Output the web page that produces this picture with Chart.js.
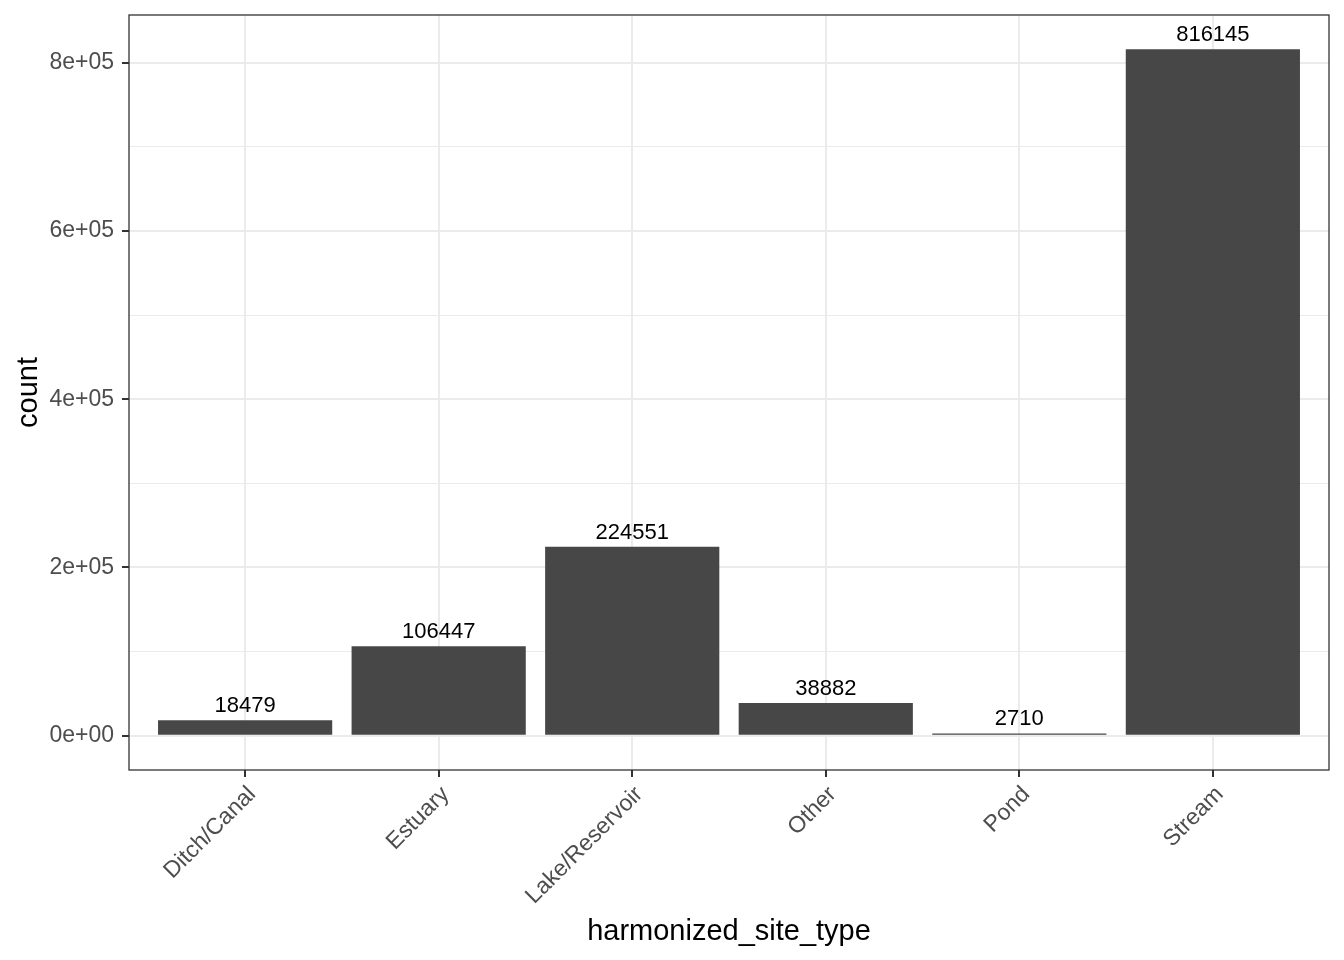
<!DOCTYPE html>
<html><head><meta charset="utf-8">
<script src="https://cdn.jsdelivr.net/npm/chart.js@4.4.1/dist/chart.umd.min.js"></script>
<style>html,body{margin:0;padding:0;background:#fff}#wrap{width:1344px;height:960px}</style>
</head><body><div id="wrap"><canvas id="c" width="1344" height="960"></canvas></div>
<script>
const categories = ["Ditch/Canal", "Estuary", "Lake/Reservoir", "Other", "Pond", "Stream"];
const counts = [18479, 106447, 224551, 38882, 2710, 816145];
const yMajorValues = [0, 200000, 400000, 600000, 800000];
const yMajorLabels = ["0e+00", "2e+05", "4e+05", "6e+05", "8e+05"];
const yMinorValues = [100000, 300000, 500000, 700000];

const FONT = "'Liberation Sans', Arial, Helvetica, sans-serif";
const maxCount = Math.max(...counts);
const yMin = -0.05 * maxCount;
const yMax = 1.05 * maxCount;

const borderPlugin = {
  id: 'panelBorder',
  afterDraw(chart) {
    const a = chart.chartArea, ctx = chart.ctx;
    ctx.save();
    ctx.strokeStyle = '#333333';
    ctx.lineWidth = 1.3;
    ctx.strokeRect(a.left, a.top, a.right - a.left, a.bottom - a.top);
    ctx.restore();
  }
};
const labelPlugin = {
  id: 'barLabels',
  afterDatasetsDraw(chart) {
    const ctx = chart.ctx, meta = chart.getDatasetMeta(0);
    ctx.save();
    ctx.font = '22px ' + FONT;
    ctx.fillStyle = '#000000';
    ctx.textAlign = 'center';
    ctx.textBaseline = 'alphabetic';
    meta.data.forEach((bar, i) => {
      ctx.fillText(String(counts[i]), bar.x, bar.y - 8);
    });
    ctx.restore();
  }
};

new Chart(document.getElementById('c'), {
  type: 'bar',
  data: {
    datasets: [{
      data: categories.map((c, i) => ({ x: i + 1, y: counts[i] })),
      backgroundColor: '#474747',
      borderWidth: 0,
      barPercentage: 0.9,
      categoryPercentage: 1.0
    }]
  },
  options: {
    responsive: false,
    devicePixelRatio: 1,
    animation: false,
    layout: { padding: { top: 15, right: 15, left: 0, bottom: 0 } },
    plugins: { legend: { display: false }, tooltip: { enabled: false } },
    scales: {
      x: {
        type: 'linear',
        offset: false,
        min: 0.4, max: 6.6,
        afterBuildTicks(scale) { scale.ticks = categories.map((c, i) => ({ value: i + 1 })); },
        afterFit(scale) { scale.height = 190; scale.paddingLeft = 0; scale.paddingRight = 0; },
        ticks: {
          autoSkip: false, maxRotation: 45, minRotation: 45,
          padding: 4,
          labelOffset: 7,
          color: '#4D4D4D',
          font: { family: FONT, size: 23 },
          callback: (v) => categories[Math.round(v) - 1]
        },
        grid: { offset: false, color: '#EBEBEB', lineWidth: 2, tickColor: '#333333', tickLength: 7, tickWidth: 2 },
        border: { display: false },
        title: { display: true, text: 'harmonized_site_type', color: '#000000', font: { family: FONT, size: 29 }, padding: { top: 0, bottom: 11 } }
      },
      y: {
        type: 'linear',
        min: yMin, max: yMax,
        afterBuildTicks(scale) {
          scale.ticks = yMajorValues.concat(yMinorValues).sort((a, b) => a - b).map(v => ({ value: v }));
        },
        afterFit(scale) { scale.width = 129; scale.paddingTop = 0; scale.paddingBottom = 0; },
        ticks: {
          padding: 8,
          color: '#4D4D4D',
          font: { family: FONT, size: 23 },
          callback: (v) => { const k = yMajorValues.indexOf(v); return k >= 0 ? yMajorLabels[k] : ''; }
        },
        grid: {
          color: '#EBEBEB',
          lineWidth: (c) => (yMajorValues.includes(c.tick && c.tick.value) ? 2 : 1),
          tickColor: (c) => (yMajorValues.includes(c.tick && c.tick.value) ? '#333333' : 'rgba(0,0,0,0)'),
          tickLength: 7,
          tickWidth: 2
        },
        border: { display: false },
        title: { display: true, text: 'count', color: '#000000', font: { family: FONT, size: 29 }, padding: { top: 12, bottom: 0 } }
      }
    }
  },
  plugins: [borderPlugin, labelPlugin]
});
</script></body></html>
